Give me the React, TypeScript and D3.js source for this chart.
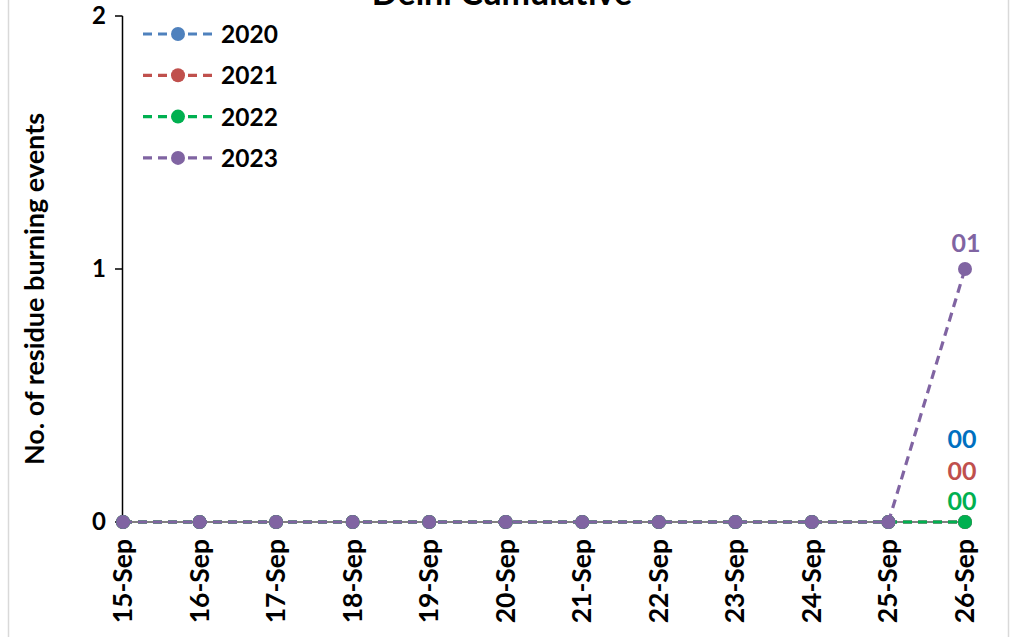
import React from "react";
import * as d3 from "d3";

const categories = ["15-Sep","16-Sep","17-Sep","18-Sep","19-Sep","20-Sep","21-Sep","22-Sep","23-Sep","24-Sep","25-Sep","26-Sep"];
const years = ["2020","2021","2022","2023"];
const values2020 = [0,0,0,0,0,0,0,0,0,0,0,0];
const values2021 = [0,0,0,0,0,0,0,0,0,0,0,0];
const values2022 = [0,0,0,0,0,0,0,0,0,0,0,0];
const values2023 = [0,0,0,0,0,0,0,0,0,0,0,1];
const yTicks = [0,1,2];
const lineColors = ["#4F81BD","#C0504D","#00B050","#8064A2"];
const labelColors = ["#0070C0","#C0504D","#00B050","#8064A2"];
const lastLabels = ["00","00","00","01"];

const W = 1022, H = 637;
const FONT = "Lato, 'Open Sans', sans-serif";

export default function App() {
  const series = [values2020, values2021, values2022, values2023];
  const x = d3.scalePoint<string>().domain(categories).range([123, 965]).padding(0);
  const y = d3.scaleLinear().domain([0, 2]).range([522, 16]);
  const line = d3.line<number>().x((_, i) => x(categories[i])!).y(d => y(d));
  const lastX = x(categories[categories.length - 1])!;
  const labelYs = [448, 480, 510];

  return (
    <svg width={W} height={H} style={{ position: "absolute", left: 0, top: 0, background: "#fff" }}>
      <rect x={0} y={0} width={W} height={H} fill="#fff" />
      <line x1={8.5} x2={8.5} y1={0} y2={H} stroke="#d9d9d9" strokeWidth={1.5} />
      <line x1={1008.5} x2={1008.5} y1={0} y2={H} stroke="#d9d9d9" strokeWidth={1.5} />
      <text x={502} y={5} textAnchor="middle" fontFamily={FONT} fontWeight={700} fontSize={34} fill="#000">Delhi Cumulative</text>
      {/* y axis */}
      <line x1={122.5} x2={122.5} y1={y(2)} y2={y(0)} stroke="#000" strokeWidth={1.5} />
      {yTicks.map(t => (
        <g key={t}>
          <line x1={115} x2={122.5} y1={y(t)} y2={y(t)} stroke="#000" strokeWidth={1.5} />
          <text x={106} y={y(t) + 8} textAnchor="end" fontFamily={FONT} fontWeight={700} fontSize={24} fill="#000">{t}</text>
        </g>
      ))}
      <text transform={`translate(44,289) rotate(-90)`} textAnchor="middle" fontFamily={FONT} fontWeight={700} fontSize={27} fill="#000">No. of residue burning events</text>
      {/* x axis */}
      <line x1={122} x2={lastX} y1={y(0)} y2={y(0)} stroke="#000" strokeWidth={1} />
      {categories.map(c => (
        <g key={c}>
          <line x1={x(c)!} x2={x(c)!} y1={y(0)} y2={y(0) + 6} stroke="#000" strokeWidth={1} />
          <text transform={`translate(${x(c)! + 9},539) rotate(-90)`} textAnchor="end" fontFamily={FONT} fontWeight={700} fontSize={26.5} fill="#000">{c}</text>
        </g>
      ))}
      {/* series */}
      {series.map((s, si) => (
        <g key={years[si]}>
          <path d={line(s) || ""} fill="none" stroke={lineColors[si]} strokeWidth={3.2} strokeDasharray="9,6" />
          {s.map((v, i) => (
            <circle key={i} cx={x(categories[i])!} cy={y(v)} r={7} fill={lineColors[si]} />
          ))}
        </g>
      ))}
      {/* data labels */}
      {series.map((s, si) => {
        const v = s[s.length - 1];
        const ly = v > 0 ? y(v) - 17 : labelYs[si];
        return (
          <text key={si} x={si === 3 ? lastX + 1 : lastX - 3} y={ly} textAnchor="middle" fontFamily={FONT} fontWeight={700} fontSize={25} fill={labelColors[si]}>{lastLabels[si]}</text>
        );
      })}
      {/* legend */}
      {years.map((yr, i) => {
        const ly = 34 + i * 41.3;
        return (
          <g key={yr}>
            <line x1={143} x2={213} y1={ly} y2={ly} stroke={lineColors[i]} strokeWidth={3.2} strokeDasharray="9,6" />
            <circle cx={178} cy={ly} r={7} fill={lineColors[i]} />
            <text x={221} y={ly + 9} fontFamily={FONT} fontWeight={700} fontSize={24.5} fill="#000">{yr}</text>
          </g>
        );
      })}
    </svg>
  );
}
